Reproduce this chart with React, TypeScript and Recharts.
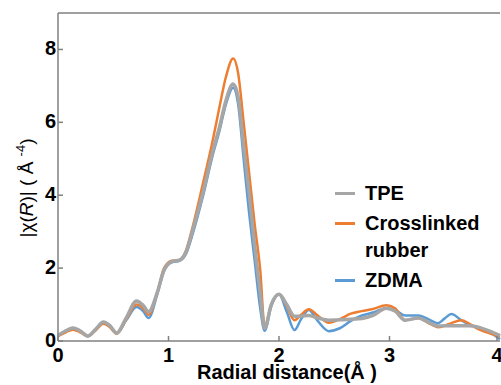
import React from 'react';
import { LineChart, Line, XAxis, YAxis, ReferenceLine } from 'recharts';

// radial distance (Å)
const R = [
  0, 0.07, 0.135, 0.2, 0.27, 0.34, 0.41, 0.47, 0.53, 0.62, 0.71, 0.77, 0.82, 0.9, 0.96,
  1.03, 1.1, 1.16, 1.22, 1.31, 1.4, 1.46, 1.52, 1.585, 1.63, 1.68, 1.73, 1.78, 1.83, 1.87,
  1.93, 2.0, 2.07, 2.14, 2.2, 2.27, 2.35, 2.45, 2.55, 2.65, 2.75, 2.85, 2.97, 3.05, 3.14,
  3.26, 3.35, 3.44, 3.5, 3.56, 3.65, 3.72, 3.8, 3.9, 4.0,
];

const TPE = [
  0.15, 0.28, 0.36, 0.28, 0.14, 0.32, 0.52, 0.42, 0.22, 0.65, 1.1, 0.98, 0.8, 1.35, 1.95,
  2.18, 2.22, 2.45, 3.05, 4.05, 5.2, 5.85, 6.6, 7.05, 6.7, 5.35, 4.05, 2.6, 1.3, 0.35,
  1.0, 1.28, 1.0, 0.68, 0.68, 0.7, 0.63, 0.57, 0.58, 0.6, 0.62, 0.7, 0.9, 0.82, 0.57,
  0.63, 0.52, 0.41, 0.42, 0.42, 0.42, 0.42, 0.38, 0.28, 0.15,
];

const CROSSLINKED = [
  0.13, 0.24, 0.31, 0.24, 0.13, 0.29, 0.47, 0.38, 0.2, 0.6, 1.0, 0.9, 0.72, 1.35, 2.0,
  2.2, 2.22, 2.5, 3.15, 4.3, 5.5, 6.4, 7.25, 7.75, 7.35, 6.0, 4.6, 3.2, 1.95, 0.4,
  1.0, 1.28, 0.95, 0.57, 0.72, 0.87, 0.7, 0.5, 0.6, 0.75, 0.82, 0.88, 0.98, 0.9, 0.57,
  0.63, 0.5, 0.38, 0.42, 0.49, 0.57, 0.48, 0.33, 0.22, 0.12,
];

const ZDMA = [
  0.15, 0.27, 0.34, 0.27, 0.13, 0.31, 0.5, 0.4, 0.21, 0.58, 0.93, 0.82, 0.63, 1.3, 1.92,
  2.16, 2.2, 2.4, 2.95, 3.95, 5.1, 5.75, 6.5, 6.95, 6.5, 5.0, 3.5, 2.2, 0.9, 0.28,
  0.95, 1.28, 0.8, 0.3, 0.6, 0.85, 0.55, 0.27, 0.35, 0.55, 0.7, 0.78, 0.9, 0.85, 0.7,
  0.7, 0.6, 0.49, 0.62, 0.74, 0.57, 0.45, 0.38, 0.25, 0.05,
];

const X_TICKS = [0, 1, 2, 3, 4];
const Y_TICKS = [0, 2, 4, 6, 8];

const data = R.map((r, i) => ({ r, tpe: TPE[i], cross: CROSSLINKED[i], zdma: ZDMA[i] }));

const FONT = '"Liberation Sans", Arial, sans-serif';
const AXIS = '#808080';

const YTick = ({ x, y, payload }: any) => (
  <g>
    <line x1={x} x2={x + 5} y1={y} y2={y} stroke={AXIS} strokeWidth={1.5} />
    <text x={x - 2} y={y + 6} textAnchor="end" fontFamily={FONT} fontWeight="bold" fontSize={20} fill="#000">
      {payload.value}
    </text>
  </g>
);

const XTick = ({ x, y, payload }: any) => (
  <g>
    <line x1={x} x2={x} y1={y} y2={y - 5} stroke={AXIS} strokeWidth={1.5} />
    <text x={x} y={y + 21} textAnchor="middle" fontFamily={FONT} fontWeight="bold" fontSize={20} fill="#000">
      {payload.value}
    </text>
  </g>
);

const legendItems = [
  { color: '#A6A6A6', label: ['TPE'] },
  { color: '#ED7D31', label: ['Crosslinked', 'rubber'] },
  { color: '#5B9BD5', label: ['ZDMA'] },
];

const LegendBox = () => (
  <div
    style={{
      position: 'absolute',
      left: 335,
      top: 180,
      fontFamily: FONT,
      fontWeight: 'bold',
      fontSize: 20,
      lineHeight: '27px',
      color: '#000',
    }}
  >
    {legendItems.map((item) => (
      <div key={item.color} style={{ display: 'flex', alignItems: 'flex-start', marginBottom: 3 }}>
        <div style={{ width: 20, height: 3, background: item.color, marginTop: 12, marginRight: 10 }} />
        <div>
          {item.label.map((l) => (
            <div key={l}>{l}</div>
          ))}
        </div>
      </div>
    ))}
  </div>
);

export default function App() {
  return (
    <div style={{ position: 'absolute', left: 0, top: 0, width: 501, height: 385, overflow: 'hidden', background: '#fff' }}>
      <LineChart width={501} height={385} data={data} margin={{ top: 13, right: 1, bottom: 0, left: 0 }}>
        <XAxis
          dataKey="r"
          type="number"
          domain={[0, 4]}
          ticks={X_TICKS}
          tick={<XTick />}
          tickSize={0}
          tickMargin={0}
          height={44}
          stroke={AXIS}
          strokeWidth={1.5}
          label={{
            content: () => (
              <text x={287} y={379} textAnchor="middle" fontFamily={FONT} fontWeight="bold" fontSize={20} fill="#000">
                Radial distance(Å )
              </text>
            ),
          }}
        />
        <YAxis
          type="number"
          domain={[0, 9]}
          ticks={Y_TICKS}
          tick={<YTick />}
          tickSize={0}
          tickMargin={0}
          width={58}
          stroke={AXIS}
          strokeWidth={1.5}
          label={{
            content: () => (
              <text
                x={0}
                y={0}
                transform="translate(33 188) rotate(-90)"
                textAnchor="middle"
                fontFamily={FONT}
                fontSize={19}
                fill="#000"
              >
                |χ(<tspan fontStyle="italic">R</tspan>)| ( Å <tspan dy={-8} fontSize={13}>-4</tspan>
                <tspan dy={8}>)</tspan>
              </text>
            ),
          }}
        />
        <ReferenceLine y={9} stroke={AXIS} strokeWidth={1.5} />
        <Line dataKey="zdma" type="monotone" stroke="#5B9BD5" strokeWidth={2.5} dot={false} isAnimationActive={false} />
        <Line dataKey="cross" type="monotone" stroke="#ED7D31" strokeWidth={2.5} dot={false} isAnimationActive={false} />
        <Line dataKey="tpe" type="monotone" stroke="#A6A6A6" strokeWidth={3.5} dot={false} isAnimationActive={false} />
      </LineChart>
      <LegendBox />
    </div>
  );
}
